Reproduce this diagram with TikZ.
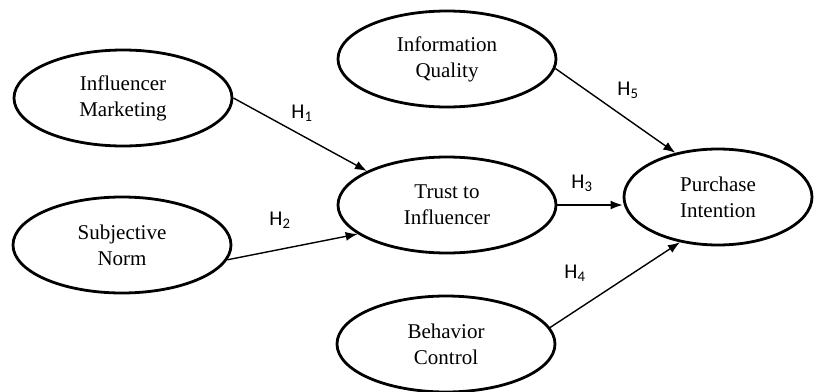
\documentclass[tikz,border=0pt]{standalone}
\usepackage{fontspec}
\setmainfont{Liberation Serif}
\newfontfamily\hypfont{Carlito}
\usetikzlibrary{shapes.geometric,arrows.meta}
\begin{document}
\begin{tikzpicture}[x=1pt,y=-1pt,
  construct/.style={ellipse,draw,line width=2.8pt,minimum width=218pt,minimum height=96pt,
    inner sep=0pt,align=center,font=\fontsize{21}{26}\selectfont},
  path/.style={line width=1.4pt,-{Latex[length=12pt,width=9pt]}},
  hyp/.style={font=\hypfont\fontsize{21}{24}\selectfont}]
\useasboundingbox (0,0) rectangle (827,391);
% latent constructs
\node[construct] (IM) at (123,98) {Influencer\\Marketing};
\node[construct] (IQ) at (447,59) {Information\\Quality};
\node[construct] (TI) at (447,205) {Trust to\\Influencer};
\node[construct] (SN) at (122,245) {Subjective\\Norm};
\node[construct] (BC) at (446,344) {Behavior\\Control};
\node[construct,minimum width=188pt] (PI) at (718,197) {Purchase\\Intention};
% hypothesised paths
\draw[path] (IM.east) -- (TI.157);
\draw[path] (SN.-8) -- (TI.-162);
\draw[path] (TI.east) -- (TI.east -| PI.west);
\draw[path] (IQ.-5) -- (PI.134);
\draw[path] (BC.9) -- (PI.-130);
% path labels
\node[hyp] (h1) at (302,113) {H\textsubscript{1}};
\node[hyp] (h2) at (280,220) {H\textsubscript{2}};
\node[hyp] (h3) at (582,183) {H\textsubscript{3}};
\node[hyp] (h5) at (628,90) {H\textsubscript{5}};
\node[hyp] (h4) at (575,273) {H\textsubscript{4}};
\end{tikzpicture}
\end{document}
